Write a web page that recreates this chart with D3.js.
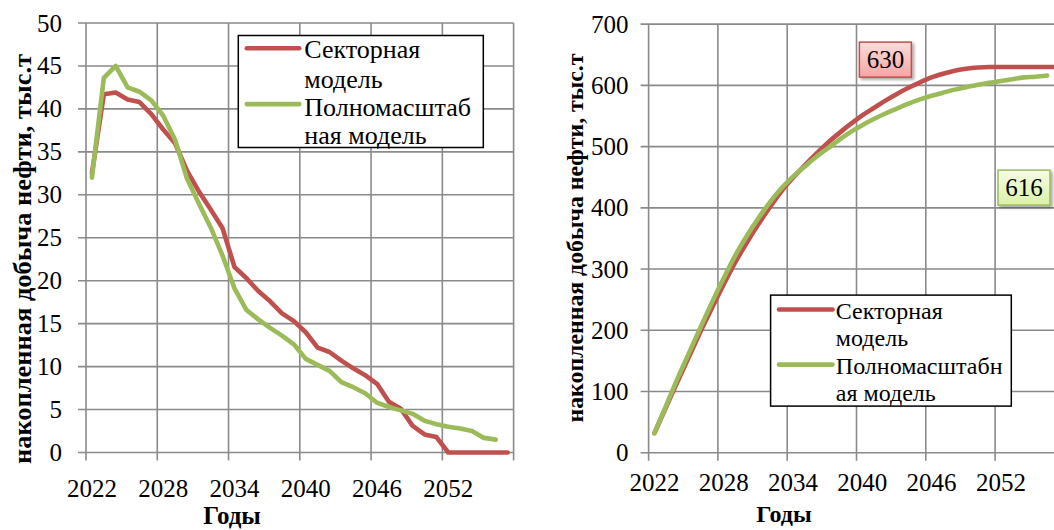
<!DOCTYPE html>
<html>
<head>
<meta charset="utf-8">
<script src="https://cdn.jsdelivr.net/npm/d3@7/dist/d3.min.js"></script>
<style>
  body { margin: 0; background: #fff; }
  svg, svg text { font-family: "Liberation Serif", "Times New Roman", "DejaVu Serif", serif; }
  .grid line { stroke: #8a8a8a; stroke-width: 1.6; }
  .axis text { font-size: 25px; fill: #000; }
  .axis-title { font-weight: bold; fill: #000; }
  .series { fill: none; stroke-width: 4.6; stroke-linecap: round; stroke-linejoin: round; }
  .legend-text { fill: #000; }
</style>
</head>
<body>
<svg id="chart" width="1054" height="530"></svg>
<script>
// data
const years = [2022, 2023, 2024, 2025, 2026, 2027, 2028, 2029, 2030, 2031, 2032, 2033,
               2034, 2035, 2036, 2037, 2038, 2039, 2040, 2041, 2042, 2043, 2044, 2045,
               2046, 2047, 2048, 2049, 2050, 2051, 2052, 2053, 2054, 2055, 2056, 2057];

// yearly production, thousand t (left chart)
const sectorRate = [32.5, 41.7, 41.9, 41.1, 40.8, 39.4, 37.6, 36.0, 32.8, 30.4, 28.3, 26.1,
                    21.6, 20.3, 18.8, 17.6, 16.2, 15.3, 14.0, 12.2, 11.7, 10.7, 9.8, 9.0,
                    8.0, 5.9, 5.1, 3.1, 2.1, 1.8, 0, 0, 0, 0, 0, 0];
const fullRate = [32.0, 43.6, 45.0, 42.5, 42.0, 41.0, 39.2, 36.4, 31.9, 29.0, 26.2, 22.9,
                  19.1, 16.6, 15.5, 14.5, 13.6, 12.6, 10.9, 10.2, 9.5, 8.2, 7.6, 6.9,
                  5.8, 5.3, 4.9, 4.5, 3.7, 3.3, 3.0, 2.8, 2.5, 1.7, 1.5];

// accumulated production, thousand t (right chart)
const sectorTotal = [32, 74, 116, 157, 198, 237, 275, 311, 343, 373, 401, 427,
                     449, 469, 488, 506, 522, 537, 551, 563, 575, 586, 596, 605,
                     613, 619, 624, 627, 629, 630, 630, 630, 630, 630, 630, 630];
const fullTotal = [32, 76, 121, 163, 205, 246, 285, 322, 354, 383, 409, 432,
                   451, 467, 483, 497, 511, 524, 535, 545, 554, 562, 570, 577,
                   583, 588, 593, 597, 601, 604, 607, 610, 613, 614, 616];

const xTickYears = [2022, 2028, 2034, 2040, 2046, 2052];
const rateTicks = [0, 5, 10, 15, 20, 25, 30, 35, 40, 45, 50];
const totalTicks = [0, 100, 200, 300, 400, 500, 600, 700];

const seriesNames = ['Секторная модель', 'Полномасштабная модель'];
const endLabels = ['630', '616'];

const yTitle = 'накопленная добыча нефти, тыс.т';
const xTitle = 'Годы';

const red = '#c0504d';
const green = '#9bbb59';
const serif = '"Liberation Serif", "Times New Roman", "DejaVu Serif", serif';

const svg = d3.select('#chart');

const defs = svg.append('defs');

/*
 * panel layouts, hard-coded to sit like the two excel charts
 */
const panels = [
  {
    id: 'rate',
    left: 86, right: 513.6, top: 23, bottom: 452.5,
    domain: [0, 50], ticks: rateTicks,
    series: [sectorRate, fullRate],
    curve: d3.curveLinear,
    tickPadX: 27, tickPadY: 24,
    yTitle: { x: 22, y: 259, size: 25, length: 410 },
    xTitle: { x: 232, y: 524, size: 25 },
    legend: {
      x: 238.3, y: 35.5, w: 245, h: 112, fontSize: 26,
      lineX: [246.8, 299.2], lineY: [48.3, 104.1], textX: 304.3,
      baselines: [58, 88, 116, 144],
      lines: [['Секторная', 'модель'], ['Полномасштаб', 'ная модель']]
    }
  },
  {
    id: 'total',
    left: 648.6, right: 648.6 + 36 * 11.55, top: 24.1, bottom: 452.8,
    domain: [0, 700], ticks: totalTicks,
    series: [sectorTotal, fullTotal],
    curve: d3.curveMonotoneX,
    tickPadX: 20, tickPadY: 20,
    yTitle: { x: 575, y: 238, size: 23, length: 369 },
    xTitle: { x: 784, y: 522, size: 24 },
    legend: {
      x: 770.6, y: 295.1, w: 240.7, h: 111, fontSize: 24,
      lineX: [779, 832.5], lineY: [309.5, 364.6], textX: 835.8,
      baselines: [318.5, 345.5, 373.5, 400.5],
      lines: [['Секторная', 'модель'], ['Полномасштабн', 'ая модель']]
    },
    labels: [
      { year: 2042, value: 642, w: 52, h: 35, fill: ['#fcdcdc', '#f4a6a5'], stroke: '#c0504d' },
      { year: 2054, value: 433, w: 52, h: 35, fill: ['#f7fde6', '#d9f0a8'], stroke: '#9bbb59' }
    ]
  }
];

panels.forEach(drawPanel);

function drawPanel(p) {
  const x = d3.scaleBand()
              .domain(years)
              .range([p.left, p.right])
              .padding(0);

  const y = d3.scaleLinear()
              .domain(p.domain)
              .range([p.bottom, p.top]);

  const g = svg.append('g').attr('id', p.id);

  drawGrid(g, p, x, y);
  drawAxis(g, p, x, y);
  drawSeries(g, p, x, y);
  drawLegend(g, p.legend);
  if (p.labels) drawEndLabels(g, p, x, y);
  drawTitles(g, p);
}

/*
 * gridlines sit on category boundaries every 6 years, like excel
 */
function drawGrid(g, p, x, y) {
  const grid = g.append('g').attr('class', 'grid');

  let xs = xTickYears.map(d => x(d));
  xs.push(x.range()[1]);

  grid.selectAll('.v')
      .data(xs)
      .enter()
      .append('line')
      .attr('class', 'v')
      .attr('x1', d => d).attr('x2', d => d)
      .attr('y1', p.top).attr('y2', p.bottom + 8);

  grid.selectAll('.h')
      .data(p.ticks)
      .enter()
      .append('line')
      .attr('class', 'h')
      .attr('x1', p.left - 8).attr('x2', x.range()[1])
      .attr('y1', d => y(d)).attr('y2', d => y(d));
}

function drawAxis(g, p, x, y) {
  const xAxis = d3.axisBottom(x)
                  .tickValues(xTickYears)
                  .tickSize(0)
                  .tickPadding(p.tickPadX);
  const yAxis = d3.axisLeft(y)
                  .tickValues(p.ticks)
                  .tickSize(0)
                  .tickPadding(p.tickPadY);

  const xGroup = g.append('g')
                  .attr('class', 'axis')
                  .attr('transform', translate(0, p.bottom))
                  .call(xAxis);
  const yGroup = g.append('g')
                  .attr('class', 'axis')
                  .attr('transform', translate(p.left, 0))
                  .call(yAxis);

  // no axis path, the grid already draws it
  [xGroup, yGroup].forEach(a => {
    a.select('.domain').remove();
    a.attr('font-family', serif).attr('font-size', 25);
  });
}

function drawSeries(g, p, x, y) {
  const colors = [red, green];
  const line = d3.line()
                 .x((d, i) => x(years[i]) + x.bandwidth() / 2)
                 .y(d => y(d))
                 .curve(p.curve);

  g.append('g')
   .selectAll('path')
   .data(p.series)
   .enter()
   .append('path')
   .attr('class', 'series')
   .attr('stroke', (d, i) => colors[i])
   .attr('d', line);
}

function drawLegend(g, lg) {
  const colors = [red, green];
  const group = g.append('g').attr('class', 'legend');

  group.append('rect')
       .attr('x', lg.x).attr('y', lg.y)
       .attr('width', lg.w).attr('height', lg.h)
       .attr('fill', '#fff')
       .attr('stroke', '#000')
       .attr('stroke-width', 1.5);

  seriesNames.forEach((name, i) => {
    group.append('line')
         .attr('x1', lg.lineX[0]).attr('x2', lg.lineX[1])
         .attr('y1', lg.lineY[i]).attr('y2', lg.lineY[i])
         .attr('stroke', colors[i])
         .attr('stroke-width', 4.6)
         .attr('stroke-linecap', 'round');

    lg.lines[i].forEach((t, j) => {
      group.append('text')
           .attr('class', 'legend-text')
           .attr('x', lg.textX)
           .attr('y', lg.baselines[i * 2 + j])
           .attr('font-family', serif)
           .attr('font-size', lg.fontSize)
           .text(t);
    });
  });
}

function drawEndLabels(g, p, x, y) {
  const group = g.append('g').attr('class', 'end-labels');

  const shadow = defs.append('filter')
                     .attr('id', 'shadow')
                     .attr('x', '-20%').attr('y', '-20%')
                     .attr('width', '150%').attr('height', '150%');
  shadow.append('feDropShadow')
        .attr('dx', 2).attr('dy', 2)
        .attr('stdDeviation', 1.5)
        .attr('flood-color', '#000')
        .attr('flood-opacity', 0.35);

  p.labels.forEach((l, i) => {
    const grad = defs.append('linearGradient')
                     .attr('id', 'grad' + i)
                     .attr('x1', 0).attr('y1', 0).attr('x2', 0).attr('y2', 1);
    grad.append('stop').attr('offset', '0%').attr('stop-color', l.fill[0]);
    grad.append('stop').attr('offset', '100%').attr('stop-color', l.fill[1]);

    const cx = x(l.year) + x.bandwidth() / 2;
    const cy = y(l.value);

    group.append('rect')
         .attr('x', cx - l.w / 2).attr('y', cy - l.h / 2)
         .attr('width', l.w).attr('height', l.h)
         .attr('fill', 'url(#grad' + i + ')')
         .attr('stroke', l.stroke)
         .attr('stroke-width', 1.5)
         .attr('filter', 'url(#shadow)');

    group.append('text')
         .attr('x', cx).attr('y', cy)
         .attr('dy', '0.35em')
         .attr('text-anchor', 'middle')
         .attr('font-family', serif)
         .attr('font-size', 25)
         .text(endLabels[i]);
  });
}

function drawTitles(g, p) {
  g.append('text')
   .attr('class', 'axis-title')
   .attr('text-anchor', 'middle')
   .attr('font-family', serif)
   .attr('font-size', p.xTitle.size)
   .attr('x', p.xTitle.x)
   .attr('y', p.xTitle.y)
   .text(xTitle);

  // rotate inside a group so the title turns round its own centre
  const yGroup = g.append('g')
                  .attr('transform', translate(p.yTitle.x, p.yTitle.y));
  yGroup.append('text')
        .attr('class', 'axis-title')
        .attr('text-anchor', 'middle')
        .attr('font-family', serif)
        .attr('font-size', p.yTitle.size)
        .attr('textLength', p.yTitle.length)
        .attr('lengthAdjust', 'spacingAndGlyphs')
        .attr('dy', '0.35em')
        .attr('transform', 'rotate(-90)')
        .text(yTitle);
}

function translate(x, y) {
  return 'translate(' + String(x) + ',' + String(y) + ')';
}
</script>
</body>
</html>
